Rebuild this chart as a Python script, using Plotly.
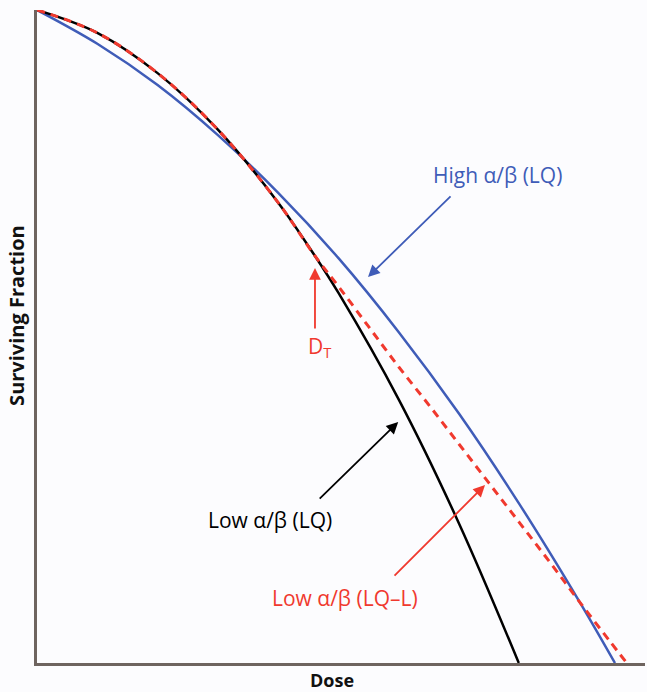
import plotly.graph_objects as go
import numpy as np

# Dose (arbitrary units) and log10 surviving fraction
dose_low_lq = [0, 1, 2, 3, 4, 4.61, 5, 6, 7, 7.99]
logsf_low_lq = [0, -0.21, -0.58, -1.10, -1.77, -2.26, -2.60, -3.58, -4.72, -6.0]

dose_low_lql = [0, 1, 2, 3, 4, 4.61, 5, 5.5, 6, 6.5, 7, 7.5, 8, 8.5, 9, 9.5, 9.78]
logsf_low_lql = [0, -0.21, -0.58, -1.10, -1.77, -2.26, -2.54, -2.91, -3.28, -3.63, -3.99, -4.35,
                 -4.71, -5.07, -5.44, -5.80, -6.0]

dose_high_lq = [0, 1, 2, 3, 4, 5, 6, 7, 8, 9, 9.585]
logsf_high_lq = [0, -0.31, -0.69, -1.15, -1.68, -2.28, -2.96, -3.71, -4.54, -5.44, -6.0]

BLUE = "#3f5cb8"
RED = "#f0392e"
BLACK = "#000000"
FONT = "Open Sans"

fig = go.Figure()
fig.add_trace(go.Scatter(x=dose_high_lq, y=10 ** np.array(logsf_high_lq), mode="lines",
                         line=dict(color=BLUE, width=2.5, shape="spline", smoothing=1.0), hoverinfo="skip"))
fig.add_trace(go.Scatter(x=dose_low_lq, y=10 ** np.array(logsf_low_lq), mode="lines",
                         line=dict(color=BLACK, width=2.5, shape="spline", smoothing=1.0), hoverinfo="skip"))
fig.add_trace(go.Scatter(x=dose_low_lql, y=10 ** np.array(logsf_low_lql), mode="lines",
                         line=dict(color=RED, width=3, shape="spline", smoothing=1.0, dash="8px,6px"),
                         hoverinfo="skip"))

arrows = [
    (5.49, -2.453, 84, -82, BLUE),
    (4.61, -2.37, 0, 62, RED),
    (5.99, -3.786, -80, 78, BLACK),
    (7.43, -4.365, -92, 92, RED),
]
ann_list = []
for x, y, ax, ay, c in arrows:
    ann_list.append(dict(x=x, y=y, xref="x", yref="y", ax=ax, ay=ay,
                         text="", showarrow=True, arrowhead=2, arrowsize=1.3, arrowwidth=1.8,
                         arrowcolor=c))

texts = [
    ("High α/β (LQ)", 7.63, -1.516, BLUE),
    ("D<sub>T</sub>", 4.69, -3.10, RED),
    ("Low α/β (LQ)", 3.86, -4.686, BLACK),
    ("Low α/β (LQ–L)", 5.11, -5.403, RED),
]
for t, x, y, c in texts:
    ann_list.append(dict(x=x, y=y, xref="x", yref="y", text=t, showarrow=False,
                         font=dict(family=FONT, size=21, color=c), xanchor="center", yanchor="middle"))

ann_list.append(dict(x=0.486, y=0, xref="paper", yref="paper", yanchor="middle", yshift=-17,
                     text="<b>Dose</b>", showarrow=False,
                     font=dict(family=FONT, size=18, color="#111111")))
ann_list.append(dict(x=-0.033, y=0.533, xref="paper", yref="paper", text="<b>Surviving Fraction</b>",
                     textangle=-90, showarrow=False, xanchor="center", yanchor="middle",
                     font=dict(family=FONT, size=20, color="#111111")))

fig.update_layout(
    width=647, height=692,
    margin=dict(l=37, r=2, t=10, b=29),
    paper_bgcolor="#fcfcfe", plot_bgcolor="#fcfcfe",
    showlegend=False,
    annotations=ann_list,
    xaxis=dict(range=[0, 10.083], showgrid=False, zeroline=False, showticklabels=False,
               ticks="", showline=True, linecolor="#6e645f", linewidth=2.5, fixedrange=True),
    yaxis=dict(type="log", range=[-6, 0], showgrid=False, zeroline=False, showticklabels=False,
               ticks="", showline=True, linecolor="#6e645f", linewidth=2.5, fixedrange=True),
)
fig.write_html("out.html")
